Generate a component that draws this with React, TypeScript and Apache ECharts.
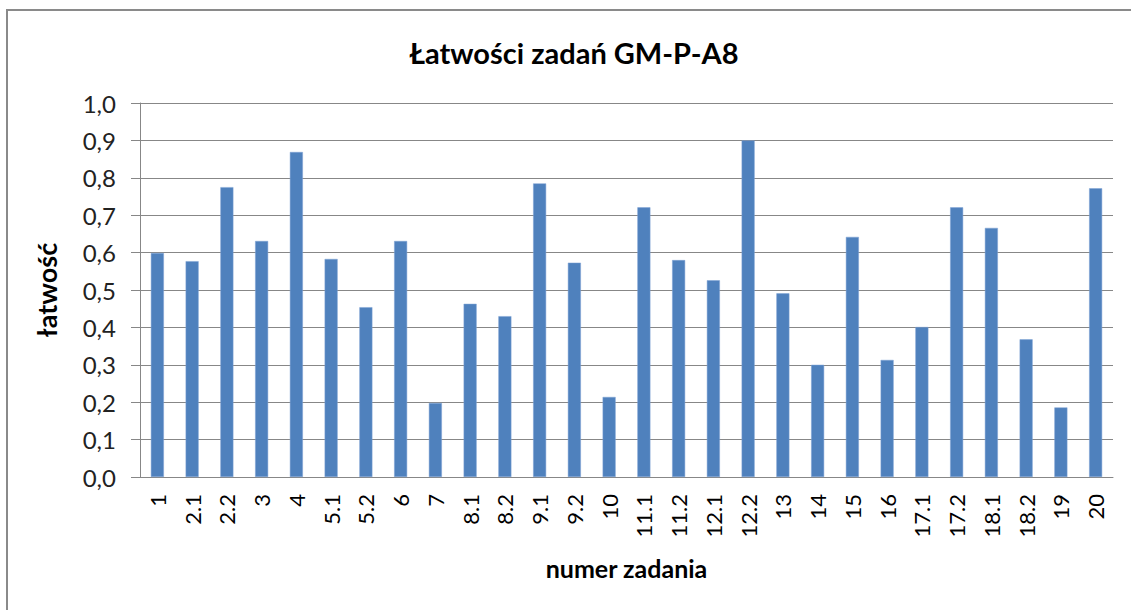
import React, { useEffect, useRef } from "react";
import * as echarts from "echarts";

const categories = ["1","2.1","2.2","3","4","5.1","5.2","6","7","8.1","8.2","9.1","9.2","10","11.1","11.2","12.1","12.2","13","14","15","16","17.1","17.2","18.1","18.2","19","20"];
const values = [0.599,0.577,0.775,0.631,0.869,0.583,0.454,0.631,0.198,0.463,0.430,0.785,0.573,0.214,0.721,0.580,0.526,0.900,0.491,0.300,0.642,0.313,0.401,0.721,0.666,0.368,0.186,0.772];
const titleText = "Łatwości zadań GM-P-A8";
const yName = "łatwość";
const xName = "numer zadania";

const FONT = "Lato, 'Open Sans', sans-serif";

export default function App() {
  const ref = useRef<HTMLDivElement>(null);
  useEffect(() => {
    document.body.style.margin = "0";
    const chart = echarts.init(ref.current!, null, { renderer: "svg" });
    chart.setOption({
      animation: false,
      backgroundColor: "#ffffff",
      textStyle: { fontFamily: FONT },
      graphic: [
        {
          type: "rect",
          shape: { x: 7, y: 10, width: 1200, height: 700 },
          style: { fill: "none", stroke: "#8a8a8a", lineWidth: 2 },
          silent: true,
        },
        {
          type: "text",
          x: 574,
          y: 52,
          style: {
            text: titleText,
            fontFamily: FONT,
            fontWeight: "bold",
            fontSize: 29,
            fill: "#000000",
            textAlign: "center",
            textVerticalAlign: "middle",
          },
        },
      ],
      grid: { left: 140, right: 18, top: 103, bottom: 133 },
      xAxis: {
        type: "category",
        data: categories,
        name: xName,
        nameLocation: "middle",
        nameGap: 78,
        nameTextStyle: { fontFamily: FONT, fontWeight: "bold", fontSize: 25, color: "#000" },
        axisLine: { lineStyle: { color: "#878787", width: 1 } },
        axisTick: { show: false },
        axisLabel: { rotate: 90, fontSize: 22, color: "#000", margin: 17, fontFamily: FONT },
      },
      yAxis: {
        type: "value",
        min: 0,
        max: 1,
        interval: 0.1,
        name: yName,
        nameLocation: "middle",
        nameGap: 80,
        nameRotate: 90,
        nameTextStyle: { fontFamily: FONT, fontWeight: "bold", fontSize: 27, color: "#000" },
        axisLine: { show: true, lineStyle: { color: "#878787", width: 1 } },
        axisTick: { show: true, length: 9, lineStyle: { color: "#878787" } },
        axisLabel: {
          fontSize: 24,
          color: "#222",
          margin: 24,
          fontFamily: FONT,
          formatter: (v: number) => v.toFixed(1).replace(".", ","),
        },
        splitLine: { lineStyle: { color: "#878787", width: 1 } },
      },
      series: [
        {
          type: "bar",
          data: values,
          barWidth: 13,
          itemStyle: { color: "#4F81BD", borderColor: "#7fa3d4", borderWidth: 0.5 },
        },
      ],
    });
    return () => chart.dispose();
  }, []);
  return <div ref={ref} style={{ width: 1131, height: 610 }} />;
}
